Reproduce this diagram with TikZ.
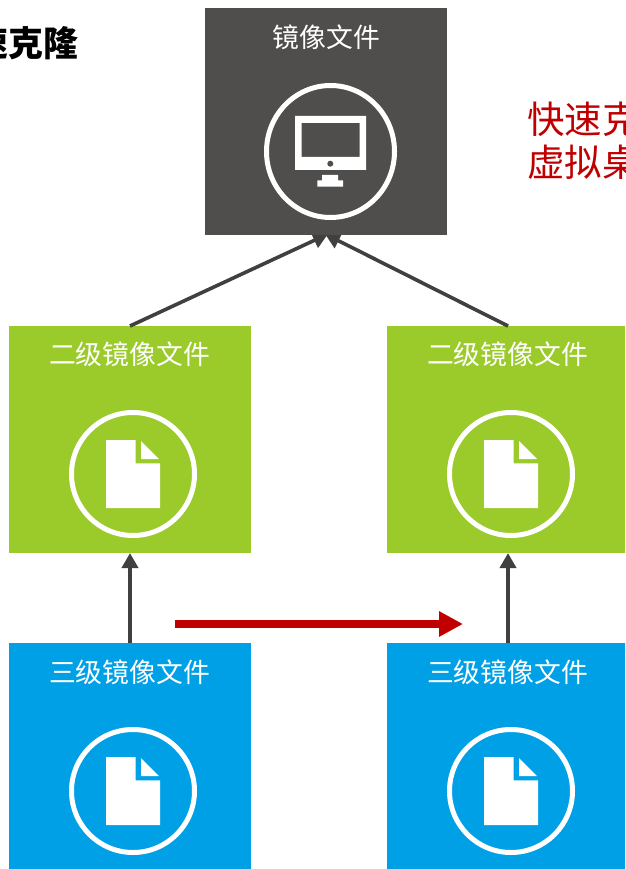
\documentclass[tikz,border=0pt]{standalone}
\usepackage{fontspec}
\setmainfont{Noto Sans CJK SC}
\usetikzlibrary{arrows.meta}
\definecolor{darkbox}{HTML}{4F4E4C}
\definecolor{greenbox}{HTML}{9BCA2B}
\definecolor{bluebox}{HTML}{00A0E6}
\definecolor{linkgray}{HTML}{404040}
\definecolor{redlink}{HTML}{C00000}
\tikzset{
  tile/.style={anchor=north west,minimum width=242pt,minimum height=227pt,inner sep=0pt,outer sep=0pt,draw=none},
  tiletext/.style={text=white,font=\fontsize{26.8}{30}\selectfont,inner sep=0pt},
  ring/.style={draw=white,line width=5pt,fill=none},
  iconfill/.style={fill=white,draw=none},
  linkarrow/.style={draw=linkgray,line width=3.6pt,-{Triangle[length=15pt,width=16pt]}},
  redarrow/.style={draw=redlink,line width=8pt,-{Triangle[length=24pt,width=24pt]}},
  redtext/.style={text=redlink,font=\fontsize{37.5}{43}\selectfont,anchor=west,inner sep=0pt},
  titletext/.style={text=black,font=\bfseries\fontsize{35}{40}\selectfont,anchor=east,inner sep=0pt}
}
\newcommand{\docicon}[2]{%
  \begin{scope}[shift={(#1,#2)}]
    \draw[ring] (0,0) circle (61.5);
    \fill[iconfill] (-27,-34) -- (2.7,-34) -- (2.7,-10.7) -- (27,-10.7) -- (27,34) -- (-27,34) -- cycle;
    \fill[iconfill] (8,-33) -- (8,-15) -- (26,-15) -- cycle;
  \end{scope}}
\begin{document}
\begin{tikzpicture}[x=1pt,y=-1pt]
\useasboundingbox (0,0) rectangle (625,869);
\clip (0,0) rectangle (625,869);
\node[tile,fill=greenbox] (g1) at (9,326) {};
\node[tile,fill=greenbox] (g2) at (387,326) {};
\node[tile,fill=bluebox] (b1) at (9,643) {};
\node[tile,fill=bluebox] (b2) at (387,643) {};
\coordinate (tipL) at (328,234);
\coordinate (tipR) at (325,234);
\draw[linkarrow] (g1.north) -- (tipL);
\draw[linkarrow] (g2.north) -- (tipR);
\node[tile,fill=darkbox] (top) at (205,8) {};
\draw[linkarrow] (b1.north) -- (g1.south);
\draw[linkarrow] (b2.north) -- (g2.south);
\coordinate (redA) at (175,624);
\coordinate (redB) at (463,624);
\draw[redarrow] (redA) -- (redB);
\node[tiletext] (ttop) at (326.5,37) {镜像文件};
\node[tiletext] (tg1) at (129.5,354) {二级镜像文件};
\node[tiletext] (tg2) at (507.5,354) {二级镜像文件};
\node[tiletext] (tb1) at (129.5,672) {三级镜像文件};
\node[tiletext] (tb2) at (507.5,672) {三级镜像文件};
\node[titletext] (title) at (78.5,43) {速克隆};
\node[redtext] (r1) at (527,119.5) {快速克};
\node[redtext] (r2) at (527,162) {虚拟桌};
\draw[ring] (330.5,151.5) ellipse (64 and 66);
\fill[iconfill,even odd rule] (295,116) rectangle (366,170) (301.5,123) rectangle (359.5,157);
\fill[darkbox] (330.3,163.7) circle (3);
\fill[iconfill] (322,175) rectangle (338,181) (317.3,180.3) rectangle (343,186.7);
\docicon{133}{474}
\docicon{511}{474}
\docicon{133}{791}
\docicon{511}{791}
\end{tikzpicture}
\end{document}
